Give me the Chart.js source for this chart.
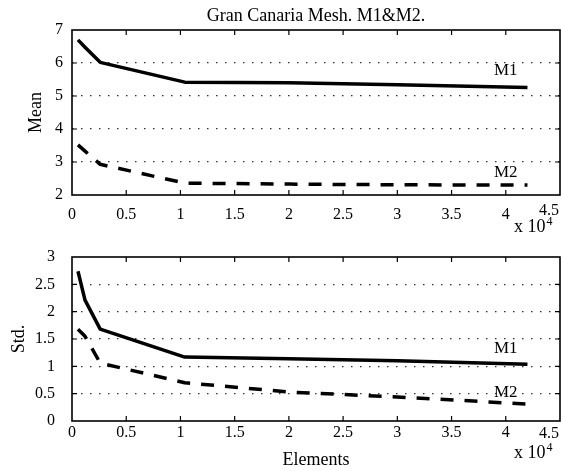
<!DOCTYPE html>
<html>
<head>
<meta charset="utf-8">
<script src="https://cdn.jsdelivr.net/npm/chart.js@4.4.0/dist/chart.umd.min.js"></script>
<style>
  html, body { margin: 0; padding: 0; background: #fff; overflow: hidden; }
  #wrap { position: relative; width: 561px; height: 471px; }
  .box { position: absolute; left: 0; width: 561px; }
  #b1 { top: 0; height: 245px; }
  #b2 { top: 245px; height: 226px; }
</style>
</head>
<body>
<div id="wrap">
  <div class="box" id="b1"><canvas id="c1"></canvas></div>
  <div class="box" id="b2"><canvas id="c2"></canvas></div>
</div>
<script>
// Mesh sizes (number of elements) and results
const elements = [550, 1200, 2600, 10400, 20000, 30000, 42000];
const meanM1 = [6.70, 6.48, 6.02, 5.42, 5.40, 5.34, 5.26];
const meanM2 = [3.52, 3.33, 2.93, 2.36, 2.33, 2.31, 2.30];
const stdM1 = [2.74, 2.21, 1.68, 1.17, 1.14, 1.10, 1.04];
const stdM2 = [1.68, 1.55, 1.06, 0.70, 0.53, 0.44, 0.31];

const seriesNames = ['M1', 'M2'];
const xTicks = [0, 5000, 10000, 15000, 20000, 25000, 30000, 35000, 40000, 45000];
const xTickLabels = ['0', '0.5', '1', '1.5', '2', '2.5', '3', '3.5', '4', '4.5'];
const meanTicks = [2, 3, 4, 5, 6, 7];
const stdTicks = [0, 0.5, 1, 1.5, 2, 2.5, 3];

const SERIF = '"Liberation Serif", "Times New Roman", serif';

function points(ys) {
  return elements.map((x, i) => ({ x: x, y: ys[i] }));
}

// box, inward ticks and the little texts matlab puts around the axes
function framePlugin(cfg) {
  return {
    id: 'frame',
    afterDraw(chart) {
      const ctx = chart.ctx;
      const a = chart.chartArea;
      const x = chart.scales.x, y = chart.scales.y;
      ctx.save();
      ctx.strokeStyle = '#000';
      ctx.lineWidth = 1.6;
      ctx.strokeRect(a.left, a.top, a.right - a.left, a.bottom - a.top);

      ctx.lineWidth = 1.2;
      ctx.beginPath();
      x.ticks.forEach(t => {
        const px = x.getPixelForValue(t.value);
        if (px <= a.left + 1 || px >= a.right - 1) return;
        ctx.moveTo(px, a.top); ctx.lineTo(px, a.top + 5);
        ctx.moveTo(px, a.bottom); ctx.lineTo(px, a.bottom - 5);
      });
      y.ticks.forEach(t => {
        const py = y.getPixelForValue(t.value);
        if (py <= a.top + 1 || py >= a.bottom - 1) return;
        ctx.moveTo(a.left, py); ctx.lineTo(a.left + 5, py);
        ctx.moveTo(a.right, py); ctx.lineTo(a.right - 5, py);
      });
      ctx.stroke();

      ctx.fillStyle = '#000';
      ctx.textBaseline = 'alphabetic';

      // series names next to the curves
      ctx.font = '17px ' + SERIF;
      ctx.textAlign = 'center';
      cfg.labels.forEach(l => {
        ctx.fillText(l.text, x.getPixelForValue(l.x), y.getPixelForValue(l.y));
      });

      // last x tick label, pushed inside like in the original
      ctx.font = '16px ' + SERIF;
      ctx.textAlign = 'right';
      ctx.fillText(xTickLabels[xTickLabels.length - 1], a.right - 1, a.bottom + cfg.lastTickDy);

      // x 10^4
      ctx.textAlign = 'left';
      ctx.font = '18px ' + SERIF;
      ctx.fillText('x 10', a.right - 46, a.bottom + 37);
      const w = ctx.measureText('x 10').width;
      ctx.font = '12px ' + SERIF;
      ctx.fillText('4', a.right - 46 + w + 1, a.bottom + 30);

      if (cfg.title) {
        ctx.font = '18px ' + SERIF;
        ctx.textAlign = 'center';
        ctx.fillText(cfg.title, (a.left + a.right) / 2, 21);
      }
      ctx.restore();
    }
  };
}

function makeChart(id, c) {
  return new Chart(document.getElementById(id), {
    type: 'line',
    data: {
      datasets: [
        { label: seriesNames[0], data: points(c.m1), borderColor: '#000', borderWidth: 3.5,
          pointRadius: 0, tension: 0, borderJoinStyle: 'round' },
        { label: seriesNames[1], data: points(c.m2), borderColor: '#000', borderWidth: 3.5,
          pointRadius: 0, tension: 0, borderDash: [13, 11], borderJoinStyle: 'round' }
      ]
    },
    options: {
      responsive: true,
      maintainAspectRatio: false,
      devicePixelRatio: 1,
      animation: false,
      layout: { padding: { top: c.top, right: 1, left: 0, bottom: 0 } },
      plugins: { legend: { display: false }, tooltip: { enabled: false }, title: { display: false } },
      scales: {
        x: {
          type: 'linear', min: 0, max: 45000,
          afterBuildTicks: s => { s.ticks = xTicks.map(v => ({ value: v })); },
          afterFit: s => { s.height = 50; s.paddingLeft = 0; s.paddingRight = 0; },
          ticks: {
            autoSkip: false, maxRotation: 0, padding: c.xPad, color: '#000',
            font: { family: SERIF, size: 16 },
            callback: (v, i) => (i === xTicks.length - 1 ? '' : xTickLabels[i])
          },
          grid: { drawOnChartArea: false, drawTicks: false },
          border: { display: false },
          title: c.xTitle ? { display: true, text: c.xTitle, color: '#000',
            font: { family: SERIF, size: 18 }, padding: { top: 0, bottom: 0 } } : { display: false }
        },
        y: {
          min: c.yTicks[0], max: c.yTicks[c.yTicks.length - 1],
          afterBuildTicks: s => { s.ticks = c.yTicks.map(v => ({ value: v })); },
          afterFit: s => { s.width = 72; s.paddingTop = 0; s.paddingBottom = 0; },
          ticks: { padding: c.yPad, color: '#000', font: { family: SERIF, size: 16 },
            callback: v => String(v) },
          grid: {
            drawTicks: false, lineWidth: 1.2,
            color: ctx => (ctx.tick && (ctx.tick.value === c.yTicks[0] || ctx.tick.value === c.yTicks[c.yTicks.length - 1]))
              ? 'rgba(0,0,0,0)' : '#333'
          },
          border: { display: false, dash: [1.5, 7.5] },
          title: { display: true, text: c.yTitle, color: '#000',
            font: { family: SERIF, size: 18 }, padding: { top: c.yTitlePad, bottom: 0 } }
        }
      }
    },
    plugins: [framePlugin(c.frame)]
  });
}

makeChart('c1', {
  m1: meanM1, m2: meanM2, yTicks: meanTicks, yTitle: 'Mean', yTitlePad: 25,
  top: 30, xPad: 10, yPad: 9,
  frame: {
    title: 'Gran Canaria Mesh. M1&M2.', lastTickDy: 20,
    labels: [{ text: seriesNames[0], x: 40000, y: 5.64 }, { text: seriesNames[1], x: 40000, y: 2.55 }]
  }
});

makeChart('c2', {
  m1: stdM1, m2: stdM2, yTicks: stdTicks, yTitle: 'Std.', yTitlePad: 8,
  top: 12, xPad: 2, yPad: 17, xTitle: 'Elements',
  frame: {
    title: null, lastTickDy: 17,
    labels: [{ text: seriesNames[0], x: 40000, y: 1.245 }, { text: seriesNames[1], x: 40000, y: 0.44 }]
  }
});
</script>
</body>
</html>
